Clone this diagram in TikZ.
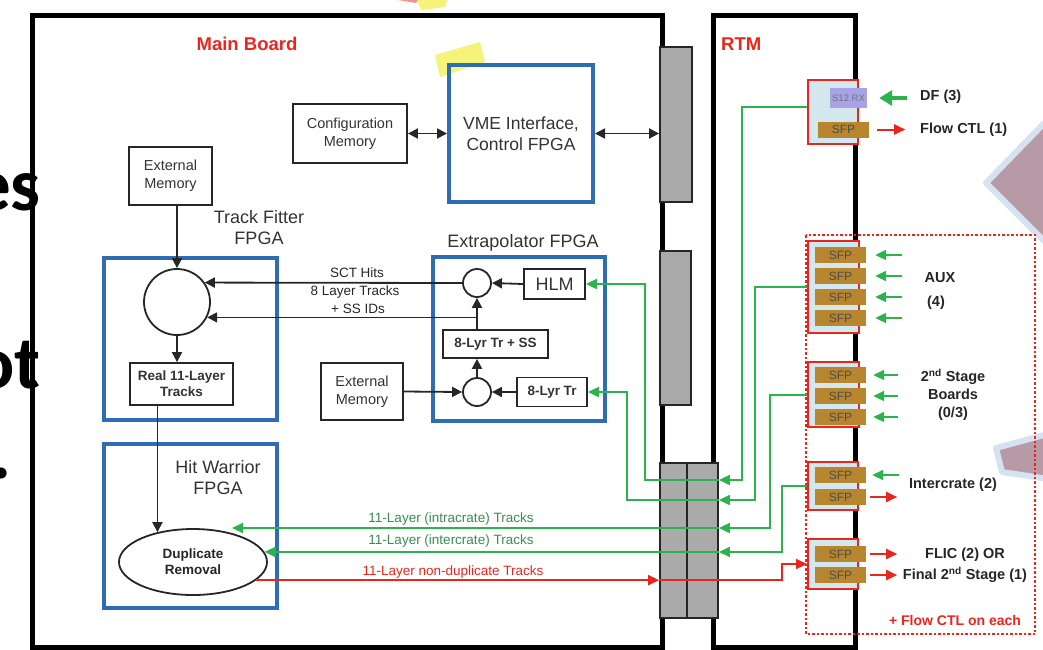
\documentclass[tikz,border=0pt]{standalone}
\usepackage{fontspec}
\setmainfont{Liberation Sans}
\newfontfamily\slidefont{Carlito}
\usetikzlibrary{arrows.meta,shapes.geometric,calc}
\definecolor{bblue}{HTML}{2E6DB4}
\definecolor{gline}{HTML}{2DB34E}
\definecolor{gtext}{HTML}{3C8A50}
\definecolor{rline}{HTML}{E8261E}
\definecolor{sfpc}{HTML}{B8862E}
\definecolor{lblue}{HTML}{D3E8EE}
\definecolor{purp}{HTML}{A7A3E6}
\definecolor{grayblk}{HTML}{AAAAAA}
\definecolor{pinkc}{HTML}{B89AA7}
\definecolor{glow}{HTML}{D6E2F0}
\definecolor{hiyel}{HTML}{F4F26A}
\begin{document}
\begin{tikzpicture}[x=1pt,y=-1pt,
  >={Triangle[length=10pt,width=10pt]},
  blk/.style={draw=black!85, line width=1.8pt, inner sep=0pt, align=center, text=black!80, font=\fontsize{14.5}{18}\selectfont},
  blkb/.style={blk, font=\bfseries\fontsize{13.5}{16}\selectfont},
  fpga/.style={draw=bblue, line width=4pt, inner sep=0pt},
  lbl/.style={align=center, text=black!80, font=\fontsize{18}{21}\selectfont, inner sep=0pt},
  smlbl/.style={text=black!85, font=\fontsize{13.5}{16}\selectfont, inner sep=0pt},
  glbl/.style={text=gtext, font=\fontsize{13.5}{16}\selectfont, inner sep=0pt},
  rlbl/.style={text=rline, font=\fontsize{13.5}{16}\selectfont, inner sep=0pt},
  circ/.style={circle, draw=black!85, line width=1.8pt, inner sep=0pt},
  arr/.style={->, draw=black!85, line width=1.8pt},
  darr/.style={<->, draw=black!85, line width=1.8pt},
  gln/.style={draw=gline, line width=2pt},
  garr/.style={gln, -{Triangle[length=11pt,width=10pt]}},
  rarr/.style={draw=rline, line width=2pt, -{Triangle[length=11pt,width=10pt]}},
  grp/.style={draw=rline, line width=2pt, fill=lblue, inner sep=0pt, minimum width=51pt},
  sfp/.style={fill=sfpc, inner sep=0pt, minimum width=51pt, minimum height=16pt, text=black!70, font=\fontsize{12}{12}\selectfont},
  gblk/.style={draw=black!85, line width=1.8pt, fill=grayblk, inner sep=0pt},
  rtmlbl/.style={font=\bfseries\fontsize{14.5}{18}\selectfont, text=black!85, inner sep=0pt, align=center},
  ttl/.style={font=\bfseries\fontsize{18.5}{20}\selectfont, text=rline, inner sep=0pt},
  slide/.style={font=\slidefont\bfseries\fontsize{75}{75}\selectfont, inner sep=0pt, anchor=base east}
]
\useasboundingbox (0,0) rectangle (1043,649);
% --- slide artefacts ---
\fill[rline!70, opacity=.7] (398,0) -- (418,0) -- (416,3) -- cycle;
\fill[hiyel, opacity=.9] (417,0) -- (447,0) -- (445,7) -- (421,10) -- cycle;
\fill[hiyel, opacity=.9] (435,55) -- (480,42) -- (485,62) -- (440,77) -- cycle;
\filldraw[draw=glow, line width=6pt, line join=round, fill=pinkc] (986,183) -- (1055,112) -- (1055,252) -- cycle;
\filldraw[draw=glow, line width=6pt, line join=round, fill=pinkc] (996,448) -- (1055,432) -- (1055,480) -- (1002,472) -- cycle;
\node[slide] (s1) at (41,210) {es};
\node[slide] (s2) at (41,388) {ot};
\node[slide] (s3) at (12,478) {.};
% --- boards ---
\draw[line width=5pt] (32,15) rectangle (662,647);
\draw[line width=5pt] (713,15) rectangle (855,647);
\node[ttl] (mbt) at (247,44) {Main Board};
\node[ttl, anchor=west] (rtmt) at (721,44) {RTM};
% --- connectors (gray) ---
\node[gblk, minimum width=32pt, minimum height=155pt] (g1) at (676,124.5) {};
\node[gblk, minimum width=31pt, minimum height=154pt] (g2) at (675.5,328) {};
\node[gblk, minimum width=27pt, minimum height=155pt] (g3a) at (673.5,540.5) {};
\node[gblk, minimum width=31pt, minimum height=155pt] (g3b) at (702.5,540.5) {};
% --- main board blocks ---
\node[blk, minimum width=114pt, minimum height=59pt] (config) at (350,133.5) {Configuration\\Memory};
\node[fpga, minimum width=144pt, minimum height=137pt, align=center, text=black!80, font=\fontsize{17.5}{21}\selectfont] (vme) at (521,133.5) {VME Interface,\\Control FPGA};
\node[blk, minimum width=83pt, minimum height=58pt] (ext1) at (170.5,176) {External\\Memory};
\node[lbl] (tfl) at (259,227.5) {Track Fitter\\FPGA};
\node[fpga, minimum width=173pt, minimum height=162pt] (tf) at (190.5,339) {};
\node[circ, minimum size=66pt] (tfc) at (177,302) {};
\node[blkb, minimum width=103pt, minimum height=42pt] (real) at (181.5,384) {Real 11-Layer\\Tracks};
\node[fpga, minimum width=173pt, minimum height=164pt] (hw) at (190.5,526) {};
\node[lbl] (hwl) at (218,477.5) {Hit Warrior\\FPGA};
\node[ellipse, draw=black!85, line width=1.8pt, inner sep=0pt, minimum width=148pt, minimum height=66pt, align=center, text=black!85, font=\bfseries\fontsize{13.5}{16}\selectfont] (dup) at (193,562) {Duplicate\\Removal};
\node[fpga, minimum width=172pt, minimum height=164pt] (ex) at (519,339) {};
\node[lbl] (exl) at (523,243) {Extrapolator FPGA};
\node[circ, minimum size=28pt] (c1) at (477,283) {};
\node[blk, minimum width=61pt, minimum height=30pt, font=\fontsize{18}{20}\selectfont] (hlm) at (554.5,284) {HLM};
\node[blkb, minimum width=105pt, minimum height=28pt] (lyrss) at (495.5,344) {8-Lyr Tr + SS};
\node[circ, minimum size=28pt] (c2) at (477,392) {};
\node[blkb, minimum width=70pt, minimum height=29pt] (lyr) at (552,392) {8-Lyr Tr};
\node[blk, minimum width=82pt, minimum height=57pt] (ext2) at (362,391.5) {External\\Memory};
% --- black connectors ---
\draw[darr] (config.east) -- (vme.west);
\draw[darr] (vme.east) -- (vme.east -| g1.west);
\draw[arr] (tfc.north |- ext1.south) -- (tfc.north);
\draw[arr] (tfc.south) -- (tfc.south |- real.north);
\draw[arr] (real.south -| dup.140) -- (dup.140);
\draw[arr] (hlm.west) -- (c1.east);
\draw[arr] (lyr.west) -- (c2.east);
\draw[arr] (ext2.east) -- (c2.west);
\draw[arr] (c2.north) -- (c2.north |- lyrss.south);
\draw[arr] (c1.south |- lyrss.north) -- (c1.south);
\draw[arr] (c1.west) -- (tfc.35);
\draw[arr] (c1.south |- tfc.-27) -- (tfc.-27);
\node[smlbl] (lb1) at (357,273) {SCT Hits};
\node[smlbl] (lb2) at (355,292) {8 Layer Tracks};
\node[smlbl] (lb3) at (358,309) {+ SS IDs};
% --- RTM groups ---
\draw[rline, line width=1.6pt, dash pattern=on 2.5pt off 2pt] (806,235) rectangle (1035,634);
\node[grp, minimum width=50pt, minimum height=64pt] (dfbox) at (833,112) {};
\node[fill=purp, inner sep=0pt, minimum width=37pt, minimum height=20pt, text=black!55, font=\fontsize{9.5}{10}\selectfont] (s12) at (848.5,98) {S12 RX};
\node[sfp] (sf0) at (843.5,129.5) {SFP};
\node[grp, minimum height=92pt] (aux) at (833.5,287) {};
\node[sfp] (x1) at (840.5,255) {SFP};
\node[sfp] (x2) at (840.5,276) {SFP};
\node[sfp] (x3) at (840.5,297) {SFP};
\node[sfp] (x4) at (840.5,318) {SFP};
\node[grp, minimum height=65pt] (stage) at (833.5,394.5) {};
\node[sfp] (y1) at (840.5,375) {SFP};
\node[sfp] (y2) at (840.5,396) {SFP};
\node[sfp] (y3) at (840.5,417) {SFP};
\node[grp, minimum width=50pt, minimum height=48pt] (inter) at (833,486) {};
\node[sfp] (z1) at (840.5,475) {SFP};
\node[sfp] (z2) at (840.5,497) {SFP};
\node[grp, minimum width=50pt, minimum height=50pt] (flic) at (833,564) {};
\node[sfp] (w1) at (840.5,554) {SFP};
\node[sfp] (w2) at (840.5,575) {SFP};
% --- external arrows ---
\draw[gln, -{Triangle[length=13pt,width=15pt]}, line width=4pt] ([xshift=40pt]s12.east) -- ([xshift=12pt]s12.east);
\draw[rarr] ([xshift=8pt]sf0.east) -- ([xshift=36pt]sf0.east);
\foreach \n in {x1,x2,x3,x4} \draw[garr] ([xshift=36pt]\n.east) -- ([xshift=9pt]\n.east);
\foreach \n in {y1,y2,y3} \draw[garr] ([xshift=32pt]\n.east) -- ([xshift=7pt]\n.east);
\draw[garr] ([xshift=33pt]z1.east) -- ([xshift=6pt]z1.east);
\draw[rarr] ([xshift=4pt]z2.east) -- ([xshift=31pt]z2.east);
\draw[rarr] ([xshift=4pt]w1.east) -- ([xshift=31pt]w1.east);
\draw[rarr] ([xshift=4pt]w2.east) -- ([xshift=31pt]w2.east);
\node[rtmlbl, anchor=west] (df) at (920,97) {DF (3)};
\node[rtmlbl, anchor=west] (fc) at (920,130) {Flow CTL (1)};
\node[rtmlbl] (auxl) at (940,278) {AUX};
\node[rtmlbl] (auxn) at (936,303) {(4)};
\node[rtmlbl] (stl) at (953,395) {2\textsuperscript{nd} Stage\\Boards\\(0/3)};
\node[rtmlbl] (icl) at (953,485) {Intercrate (2)};
\node[rtmlbl] (fl1) at (965,555) {FLIC (2) OR};
\node[rtmlbl] (fl2) at (965,575) {Final 2\textsuperscript{nd} Stage (1)};
\node[rtmlbl, text=rline, font=\bfseries\fontsize{14}{16}\selectfont] (fce) at (955,620) {+ Flow CTL on each};
% --- green / red links ---
\coordinate (a1) at (742,107);
\coordinate (a2) at (742,480);
\coordinate (a3) at (645,480);
\coordinate (b2) at (755,500);
\coordinate (b3) at (627,500);
\coordinate (c2p) at (770,528);
\coordinate (cend) at (232,528);
\coordinate (dx) at (782,0);
\draw[garr] (dfbox.west |- a1) -- (a1) -- (a2) -- (g3b.east |- a2);
\draw[garr] (g3b.east |- a2) -- (a3) |- (hlm.east);
\draw[garr] (aux.west) -| (b2) -- (g3b.east |- b2);
\draw[garr] (g3b.east |- b2) -- (b3) |- (lyr.east);
\draw[garr] (stage.west) -| (c2p) -- (g3b.east |- c2p);
\draw[garr] (g3b.east |- c2p) -- (cend);
\draw[garr] (inter.west) -| (dup.8 -| dx) -- (g3b.east |- dup.8);
\draw[garr] (g3b.east |- dup.8) -- (dup.8);
\draw[rarr] (dup.-16) -- (g3a.west |- dup.-16);
\draw[rarr] (g3a.west |- dup.-16) -- (dup.-16 -| dx) |- (flic.west);
\node[glbl] (t1) at (451,519) {11-Layer (intracrate) Tracks};
\node[glbl] (t2) at (451,541) {11-Layer (intercrate) Tracks};
\node[rlbl] (t3) at (453,572) {11-Layer non-duplicate Tracks};
\end{tikzpicture}
\end{document}
